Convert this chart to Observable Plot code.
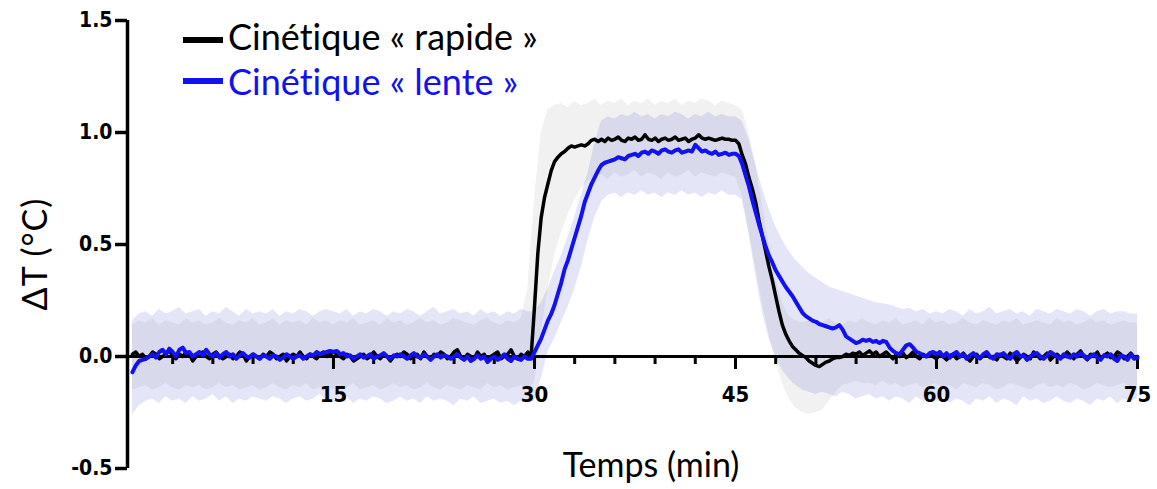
<!DOCTYPE html>
<html><head><meta charset="utf-8">
<script src="https://cdn.jsdelivr.net/npm/d3@7"></script>
<script src="https://cdn.jsdelivr.net/npm/@observablehq/plot@0.6"></script>
<style>
html,body{margin:0;padding:0;background:#fff;}
#wrap{position:relative;width:1157px;height:489px;overflow:hidden;}
#wrap svg{position:absolute;left:0;top:0;}
.ttl{position:absolute;font-family:Lato,"Open Sans",sans-serif;white-space:nowrap;line-height:1;font-variant-ligatures:none;font-feature-settings:"liga" 0;}
.dash{position:absolute;height:6px;width:40px;}
</style></head><body><div id="wrap"></div>
<script>
// ---- scales / ticks ----
const xDomain = [-0.37, 75];
const yDomain = [-0.5, 1.5];
const yTicks = [-0.5, 0, 0.5, 1.0, 1.5];
const xMajorTicks = [15, 30, 45, 60, 75];
const xMinorTicks = [3, 6, 9, 12, 18, 21, 24, 27, 33, 36, 39, 42, 48, 51, 54, 57, 63, 66, 69, 72];
const seriesNames = ["Cinétique « rapide »", "Cinétique « lente »"];
const sampleStep = 0.25; // min between mean samples
const bandStep = 0.5;    // min between band samples

// ---- mean ΔT, "rapide" (every 0.25 min, 0..75) ----
const rapideMean = [
0.01,0.02,0.00,0.01,-0.01,0.00,0.02,0.01,-0.01,0.00,0.01,0.03,0.00,-0.01,0.01,0.00,0.02,0.01,-0.02,0.00,
0.01,0.02,0.00,-0.01,0.01,0.02,0.00,-0.01,0.00,0.01,-0.01,0.00,0.02,0.01,-0.02,0.00,0.01,0.00,-0.01,0.01,
0.00,0.02,0.01,-0.01,0.00,0.01,-0.02,0.00,0.01,0.00,0.02,0.00,-0.01,0.01,0.00,-0.01,0.01,0.02,0.00,0.01,
0.02,0.01,0.00,-0.01,0.01,0.00,-0.02,-0.01,0.00,0.01,-0.01,0.00,0.02,0.00,-0.01,0.01,0.00,-0.02,0.00,0.01,
0.00,0.02,0.01,-0.01,0.00,0.01,-0.01,0.02,0.00,-0.01,0.01,0.00,0.02,0.01,-0.01,0.00,0.02,0.03,0.00,-0.01,
0.01,0.00,-0.01,0.02,0.00,0.01,-0.02,0.00,0.01,0.02,-0.01,0.00,0.01,0.03,0.00,-0.01,0.01,0.00,0.02,0.00,
0.22,0.46,0.62,0.71,0.77,0.83,0.87,0.89,0.905,0.915,0.93,0.94,0.935,0.94,0.945,0.94,0.95,0.965,0.97,0.96,
0.97,0.96,0.975,0.965,0.97,0.98,0.965,0.96,0.975,0.97,0.98,0.965,0.97,0.99,0.97,0.965,0.975,0.96,0.97,0.975,
0.965,0.97,0.98,0.965,0.97,0.975,0.96,0.97,0.975,0.99,0.975,0.97,0.975,0.97,0.965,0.97,0.975,0.97,0.97,0.965,
0.965,0.95,0.90,0.86,0.80,0.75,0.69,0.61,0.54,0.47,0.40,0.34,0.27,0.20,0.14,0.10,0.07,0.045,0.03,0.015,
0.005,-0.005,-0.02,-0.03,-0.04,-0.045,-0.035,-0.025,-0.02,-0.01,-0.005,-0.005,0.00,0.01,0.005,0.015,0.01,0.02,0.005,0.015,
0.025,0.01,0.02,0.00,0.01,0.02,0.005,-0.01,0.01,0.00,0.015,-0.005,0.005,0.02,0.00,-0.01,0.01,0.00,0.015,0.00,
-0.01,0.01,0.00,-0.015,0.005,0.01,-0.01,0.00,0.015,-0.005,-0.02,0.00,0.01,-0.01,0.005,0.015,-0.005,0.00,-0.015,0.01,
0.00,-0.01,0.015,0.00,-0.02,-0.005,0.01,0.00,-0.01,0.02,0.005,-0.01,0.00,0.015,-0.015,0.00,0.01,-0.005,0.00,0.02,
0.005,-0.01,0.01,0.025,0.00,-0.015,0.01,0.00,0.02,-0.01,0.005,0.015,-0.005,0.00,0.02,0.01,-0.01,0.00,0.015,-0.005,
0.00];

// ---- mean ΔT, "lente" (every 0.25 min, 0..75) ----
const lenteMean = [
-0.07,-0.04,-0.02,-0.015,-0.01,0.00,0.01,-0.005,0.02,0.03,0.01,0.035,0.02,0.00,0.03,0.04,0.015,0.02,0.00,0.01,
0.02,0.005,0.03,0.01,0.00,0.015,-0.005,0.01,0.02,0.00,0.01,-0.01,0.005,0.015,0.00,-0.005,0.01,0.00,-0.01,0.005,
0.00,-0.01,0.005,0.00,-0.015,-0.005,0.01,0.00,-0.01,0.00,0.005,-0.01,0.00,0.01,0.005,0.02,0.01,0.015,0.02,0.025,
0.02,0.025,0.01,0.015,0.00,0.005,-0.01,0.00,0.01,-0.005,0.00,0.01,-0.01,0.00,0.005,0.015,0.00,-0.01,0.005,0.00,
0.01,0.00,-0.01,0.005,0.015,0.00,-0.005,0.01,0.00,-0.015,0.00,0.01,-0.005,0.005,0.00,-0.01,0.00,0.01,-0.005,-0.015,
0.00,-0.02,-0.01,0.005,-0.01,0.00,-0.025,-0.01,0.00,-0.015,-0.005,0.01,-0.01,-0.02,0.00,-0.01,-0.015,0.00,-0.01,-0.01,
0.02,0.05,0.08,0.12,0.16,0.19,0.23,0.28,0.33,0.39,0.43,0.48,0.53,0.58,0.63,0.69,0.73,0.77,0.80,0.83,
0.855,0.865,0.87,0.875,0.88,0.89,0.885,0.88,0.895,0.90,0.905,0.895,0.91,0.915,0.905,0.92,0.915,0.905,0.92,0.925,
0.915,0.91,0.92,0.925,0.91,0.915,0.92,0.915,0.945,0.93,0.915,0.92,0.91,0.905,0.915,0.90,0.905,0.91,0.90,0.905,
0.905,0.895,0.86,0.81,0.76,0.70,0.645,0.59,0.54,0.49,0.45,0.42,0.385,0.36,0.335,0.31,0.29,0.27,0.245,0.22,
0.195,0.18,0.17,0.16,0.155,0.145,0.14,0.135,0.13,0.125,0.13,0.14,0.12,0.09,0.08,0.07,0.06,0.065,0.075,0.07,
0.075,0.065,0.07,0.06,0.07,0.065,0.04,0.025,0.015,0.01,0.03,0.05,0.055,0.04,0.02,0.015,0.005,0.00,0.015,0.02,
0.01,0.02,0.00,0.015,-0.005,0.01,0.02,0.00,0.01,-0.01,0.005,0.015,0.00,-0.005,0.01,0.02,0.00,-0.01,0.01,0.005,
0.015,0.00,-0.01,0.01,0.02,0.00,0.005,-0.015,0.00,0.01,0.015,0.00,-0.01,0.005,0.02,0.01,0.00,-0.01,0.01,0.00,
-0.005,0.01,0.00,0.015,0.005,-0.01,0.00,0.01,-0.005,-0.015,0.005,0.00,0.01,-0.01,-0.02,0.005,0.00,-0.015,0.01,-0.01,
-0.005];

// ---- SD band, "lente" (every 0.5 min) ----
const lenteHi = [
0.16,0.19,0.20,0.18,0.21,0.19,0.20,0.22,0.19,0.20,
0.21,0.18,0.20,0.19,0.22,0.20,0.18,0.21,0.19,0.20,
0.19,0.21,0.18,0.20,0.19,0.21,0.20,0.18,0.20,0.21,
0.20,0.19,0.21,0.18,0.20,0.19,0.21,0.20,0.18,0.20,
0.19,0.21,0.20,0.18,0.20,0.22,0.19,0.20,0.21,0.19,
0.20,0.18,0.21,0.19,0.20,0.18,0.20,0.19,0.21,0.20,
0.20,0.24,0.30,0.38,0.45,0.53,0.62,0.72,0.82,0.95,
1.05,1.07,1.06,1.08,1.07,1.09,1.07,1.08,1.06,1.08,
1.07,1.09,1.08,1.06,1.08,1.07,1.09,1.07,1.08,1.07,
1.07,1.05,0.97,0.86,0.75,0.66,0.58,0.52,0.47,0.43,
0.40,0.37,0.35,0.33,0.31,0.30,0.29,0.28,0.27,0.26,
0.25,0.24,0.235,0.23,0.22,0.21,0.215,0.20,0.21,0.19,
0.20,0.19,0.21,0.20,0.18,0.21,0.19,0.20,0.22,0.19,
0.20,0.21,0.19,0.20,0.18,0.21,0.20,0.19,0.21,0.20,
0.19,0.21,0.20,0.18,0.20,0.21,0.19,0.20,0.20,0.19,
0.19];
const lenteLo = [
-0.26,-0.22,-0.20,-0.19,-0.21,-0.18,-0.20,-0.19,-0.21,-0.18,
-0.20,-0.19,-0.17,-0.20,-0.18,-0.21,-0.19,-0.20,-0.18,-0.19,
-0.20,-0.18,-0.19,-0.21,-0.19,-0.18,-0.20,-0.19,-0.17,-0.20,
-0.19,-0.20,-0.18,-0.21,-0.19,-0.20,-0.18,-0.19,-0.21,-0.20,
-0.18,-0.20,-0.19,-0.21,-0.18,-0.20,-0.19,-0.20,-0.22,-0.19,
-0.20,-0.18,-0.21,-0.20,-0.19,-0.21,-0.20,-0.22,-0.20,-0.21,
-0.20,-0.10,0.02,0.08,0.15,0.22,0.30,0.40,0.52,0.62,
0.69,0.72,0.73,0.71,0.73,0.72,0.74,0.72,0.73,0.71,
0.73,0.72,0.74,0.72,0.73,0.71,0.73,0.72,0.74,0.72,
0.72,0.70,0.55,0.37,0.20,0.08,0.00,-0.06,-0.10,-0.13,
-0.15,-0.16,-0.17,-0.16,-0.17,-0.18,-0.16,-0.17,-0.19,-0.18,
-0.17,-0.19,-0.18,-0.20,-0.18,-0.19,-0.21,-0.18,-0.20,-0.19,
-0.20,-0.18,-0.21,-0.19,-0.20,-0.22,-0.19,-0.20,-0.18,-0.21,
-0.19,-0.20,-0.22,-0.18,-0.20,-0.19,-0.21,-0.20,-0.18,-0.20,
-0.21,-0.19,-0.20,-0.22,-0.19,-0.20,-0.18,-0.21,-0.19,-0.20,
-0.19];

// ---- SD band, "rapide" (every 0.5 min) ----
const rapideHi = [
0.14,0.16,0.15,0.17,0.14,0.16,0.15,0.14,0.17,0.15,
0.16,0.14,0.15,0.17,0.15,0.14,0.16,0.15,0.17,0.14,
0.15,0.17,0.14,0.16,0.15,0.16,0.14,0.17,0.15,0.16,
0.14,0.16,0.15,0.17,0.14,0.15,0.16,0.14,0.17,0.15,
0.16,0.14,0.15,0.17,0.15,0.16,0.14,0.15,0.17,0.16,
0.15,0.14,0.16,0.17,0.15,0.14,0.16,0.15,0.17,0.30,
0.70,1.00,1.10,1.12,1.13,1.11,1.14,1.12,1.13,1.15,
1.12,1.14,1.13,1.15,1.12,1.14,1.13,1.15,1.12,1.14,
1.13,1.15,1.12,1.14,1.13,1.15,1.14,1.12,1.14,1.13,
1.12,1.10,1.00,0.86,0.68,0.50,0.35,0.24,0.18,0.16,
0.15,0.16,0.14,0.15,0.17,0.15,0.14,0.16,0.15,0.17,
0.15,0.14,0.16,0.15,0.17,0.14,0.15,0.16,0.14,0.17,
0.15,0.16,0.14,0.15,0.17,0.15,0.14,0.16,0.15,0.14,
0.16,0.15,0.17,0.14,0.15,0.16,0.15,0.14,0.17,0.15,
0.16,0.14,0.15,0.17,0.15,0.16,0.14,0.15,0.16,0.15,
0.15];
const rapideLo = [
-0.15,-0.14,-0.13,-0.15,-0.14,-0.12,-0.14,-0.15,-0.13,-0.14,
-0.13,-0.15,-0.14,-0.12,-0.14,-0.13,-0.15,-0.14,-0.13,-0.15,
-0.14,-0.12,-0.14,-0.15,-0.13,-0.14,-0.12,-0.15,-0.14,-0.13,
-0.15,-0.13,-0.14,-0.12,-0.15,-0.14,-0.13,-0.15,-0.14,-0.12,
-0.14,-0.13,-0.15,-0.14,-0.12,-0.14,-0.15,-0.13,-0.14,-0.15,
-0.13,-0.14,-0.15,-0.12,-0.14,-0.13,-0.15,-0.14,-0.13,-0.14,
-0.12,0.10,0.30,0.45,0.55,0.63,0.70,0.75,0.78,0.80,
0.81,0.79,0.82,0.80,0.81,0.83,0.80,0.82,0.81,0.79,
0.82,0.80,0.81,0.83,0.80,0.82,0.81,0.80,0.82,0.81,
0.80,0.72,0.56,0.40,0.24,0.10,-0.02,-0.12,-0.19,-0.23,
-0.25,-0.26,-0.25,-0.24,-0.20,-0.16,-0.13,-0.12,-0.11,-0.12,
-0.12,-0.13,-0.11,-0.13,-0.12,-0.14,-0.13,-0.12,-0.14,-0.13,
-0.12,-0.14,-0.13,-0.15,-0.12,-0.13,-0.14,-0.12,-0.13,-0.15,
-0.14,-0.12,-0.13,-0.14,-0.15,-0.13,-0.12,-0.14,-0.13,-0.14,
-0.12,-0.13,-0.15,-0.14,-0.12,-0.13,-0.14,-0.13,-0.12,-0.14,
-0.13];

// ---- tables built from the arrays ----
const rapideRows = rapideMean.map((v, i) => ({t: i * sampleStep, v}));
const lenteRows = lenteMean.map((v, i) => ({t: i * sampleStep, v}));
const rapideBand = rapideHi.map((hi, i) => ({t: i * bandStep, hi, lo: rapideLo[i]}));
const lenteBand = lenteHi.map((hi, i) => ({t: i * bandStep, hi, lo: lenteLo[i]}));

const condFont = "DejaVu Sans Condensed, DejaVu Sans, sans-serif";
const blue = "#1212f0";

const chart = Plot.plot({
  width: 1157, height: 489,
  marginLeft: 127, marginRight: 20, marginTop: 20, marginBottom: 21,
  x: {domain: xDomain, axis: null},
  y: {domain: yDomain},
  style: {background: "transparent", fontFamily: condFont, overflow: "visible"},
  marks: [
    Plot.areaY(rapideBand, {x: "t", y1: "lo", y2: "hi", fill: "#f1f1f1"}),
    Plot.areaY(lenteBand, {x: "t", y1: "lo", y2: "hi", fill: "rgb(110,110,215)", fillOpacity: 0.18}),
    Plot.ruleY([0], {x1: xDomain[0], x2: xDomain[1], stroke: "black", strokeWidth: 3}),
    Plot.ruleX(xMinorTicks, {x: d => d, y1: 0, y2: 0, insetBottom: -8, stroke: "black", strokeWidth: 3}),
    Plot.ruleX(xMajorTicks, {x: d => d, y1: 0, y2: 0, insetBottom: -13, stroke: "black", strokeWidth: 3}),
    Plot.line(rapideRows, {x: "t", y: "v", stroke: "black", strokeWidth: 3.5}),
    Plot.line(lenteRows, {x: "t", y: "v", stroke: blue, strokeWidth: 4}),
    Plot.ruleX([xDomain[0]], {y1: yDomain[0], y2: yDomain[1], stroke: "black", strokeWidth: 3.5}),
    Plot.axisY({ticks: yTicks, tickSize: 12, tickPadding: 3, tickFormat: d => d.toFixed(1),
      strokeWidth: 3.5, fontSize: 21, fontWeight: "bold", fontFamily: condFont, label: null}),
    Plot.text(xMajorTicks, {x: d => d, y: 0, dy: 38, text: d => String(d),
      fontSize: 22, fontWeight: "bold", fontFamily: condFont})
  ]
});
const wrap = document.getElementById("wrap");
wrap.appendChild(chart);
chart.querySelectorAll("text").forEach(t => t.style.fontStretch = "condensed");

function addDiv(cls, css, text) {
  const d = document.createElement("div");
  d.className = cls;
  Object.assign(d.style, css);
  if (text != null) d.textContent = text;
  wrap.appendChild(d);
  return d;
}
// legend
addDiv("dash", {left: "183px", top: "37px", background: "black"});
addDiv("ttl", {left: "228px", top: "18px", fontSize: "36px", color: "black"}, seriesNames[0]);
addDiv("dash", {left: "183px", top: "78px", background: blue});
addDiv("ttl", {left: "228px", top: "63px", fontSize: "36px", color: blue}, seriesNames[1]);
// axis titles
addDiv("ttl", {left: "651px", top: "447px", fontSize: "34px", transform: "translateX(-50%)"}, "Temps (min)");
addDiv("ttl", {left: "34px", top: "254px", fontSize: "34px", letterSpacing: "1px", transform: "translate(-50%,-50%) rotate(-90deg)"}, "ΔT (°C)");
</script>
</body></html>
